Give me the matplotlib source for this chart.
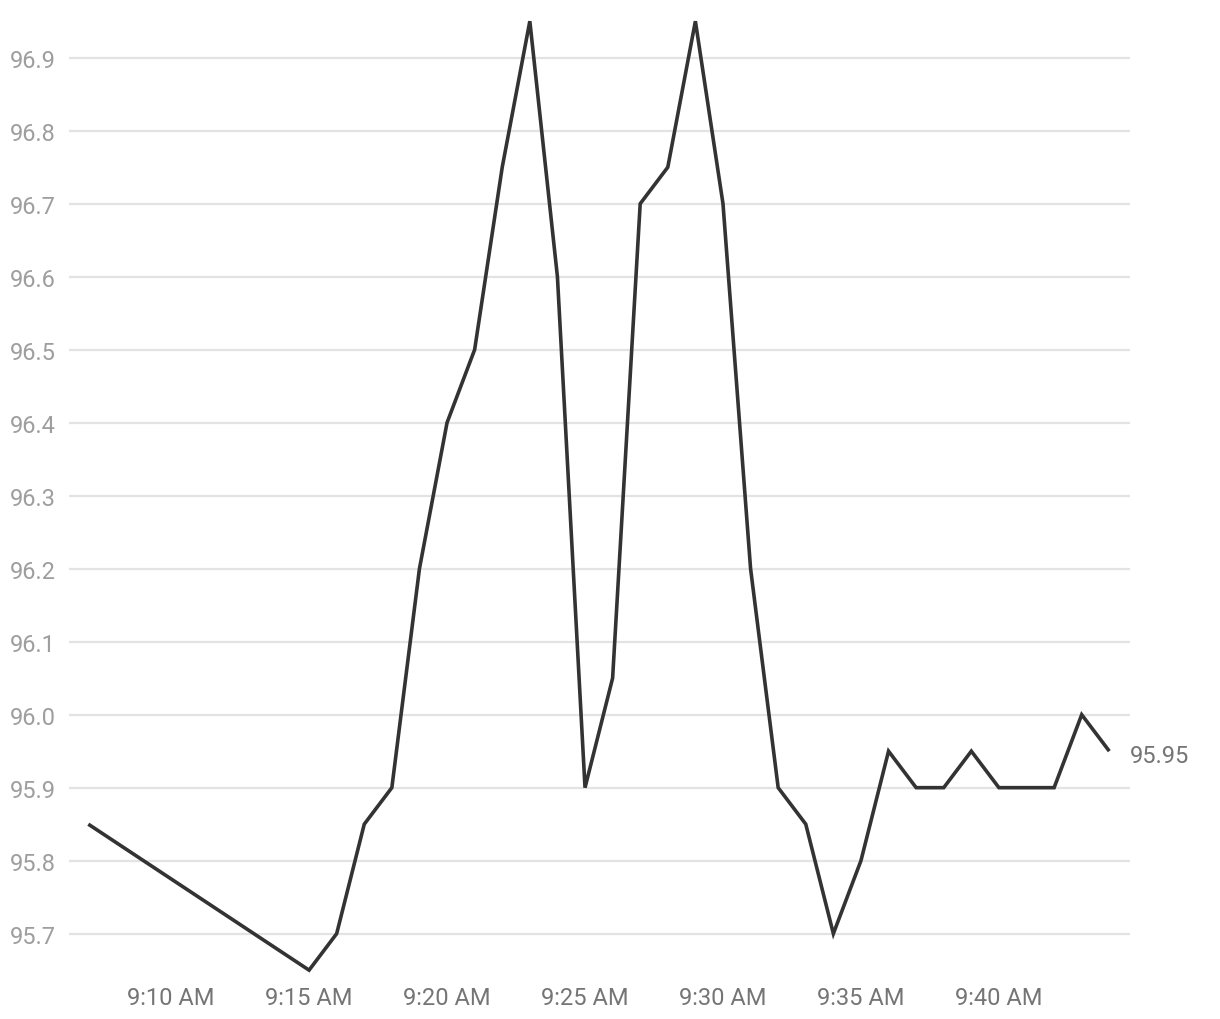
import matplotlib.pyplot as plt

plt.rcParams['font.family'] = ['Roboto', 'DejaVu Sans']

# minutes after 9:00
minutes = [7, 15, 16, 17, 18, 19, 20, 21, 22, 23, 24, 25, 26, 27, 28, 29, 30,
           31, 32, 33, 34, 35, 36, 37, 38, 39, 40, 41, 42, 43, 44]
values = [95.85, 95.65, 95.70, 95.85, 95.90, 96.20, 96.40, 96.50, 96.75, 96.95,
          96.60, 95.90, 96.05, 96.70, 96.75, 96.95, 96.70, 96.20, 95.90, 95.85,
          95.70, 95.80, 95.95, 95.90, 95.90, 95.95, 95.90, 95.90, 95.90, 96.00,
          95.95]
xtick_pos = [10, 15, 20, 25, 30, 35, 40]
xtick_labels = ['9:10 AM', '9:15 AM', '9:20 AM', '9:25 AM', '9:30 AM', '9:35 AM', '9:40 AM']
ytick_pos = [95.7, 95.8, 95.9, 96.0, 96.1, 96.2, 96.3, 96.4, 96.5, 96.6, 96.7, 96.8, 96.9]

W, H = 1220, 1020
fig = plt.figure(figsize=(W / 100, H / 100), dpi=100)
ax = fig.add_axes([69 / W, 1 - 977 / H, (1130 - 69) / W, (977 - 12) / H])

ax.plot(minutes, values, color='#333333', lw=2.6, solid_joinstyle='miter',
        solid_capstyle='butt', zorder=3)

ax.set_xlim(6.3, 44.75)
ax.set_ylim(95.642, 96.964)
ax.set_yticks(ytick_pos)
ax.set_yticklabels(['{:.1f}'.format(v) for v in ytick_pos])
ax.set_xticks(xtick_pos)
ax.set_xticklabels(xtick_labels)
ax.grid(axis='y', color='#e3e3e3', lw=1.6)
ax.set_axisbelow(True)
for s in ax.spines.values():
    s.set_visible(False)
ax.tick_params(axis='y', length=0, pad=9.5, labelsize=17, labelcolor='#9e9e9e')
ax.tick_params(axis='x', length=0, pad=7, labelsize=17, labelcolor='#757575')

ax.annotate('{:.2f}'.format(values[-1]), (minutes[-1], values[-1]),
            xytext=(15, -3), textcoords='offset points', va='center', ha='left',
            fontsize=17, color='#757575', annotation_clip=False)

fig.savefig('out.png', dpi=100)
